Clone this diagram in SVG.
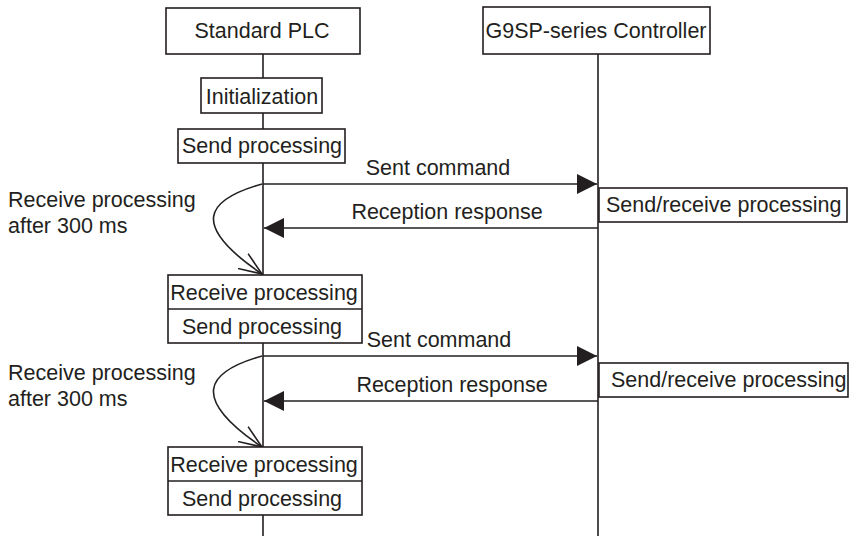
<svg xmlns="http://www.w3.org/2000/svg" width="852" height="536" viewBox="0 0 852 536">
<style>
.box{fill:#fff;stroke:#231f20;stroke-width:1.6}
.ln{fill:none;stroke:#231f20;stroke-width:1.6}
text{font-family:"Liberation Sans",Arial,sans-serif;font-size:21.5px;fill:#231f20}
.c{text-anchor:middle}
</style>
<defs>
<marker id="tri" viewBox="0 0 20 20" refX="20" refY="10" markerWidth="20" markerHeight="20" markerUnits="userSpaceOnUse" orient="auto">
<path d="M0,0 L20,10 L0,20 Z" fill="#231f20"/>
</marker>
<marker id="open" viewBox="0 0 24 20" refX="23" refY="10" markerWidth="24" markerHeight="20" markerUnits="userSpaceOnUse" orient="auto">
<path d="M0,1 L23,10 L0,19" fill="none" stroke="#231f20" stroke-width="1.6"/>
</marker>
</defs>
<g id="connectors">
<line class="ln" x1="263" y1="54" x2="263" y2="536"/>
<line class="ln" x1="598" y1="54" x2="598" y2="536"/>
<line class="ln" x1="263" y1="184" x2="597" y2="184" marker-end="url(#tri)"/>
<line class="ln" x1="598" y1="228" x2="264" y2="228" marker-end="url(#tri)"/>
<path class="ln" d="M262,184 C205,200 190,225 262,274" marker-end="url(#open)"/>
<line class="ln" x1="263" y1="356" x2="597" y2="356" marker-end="url(#tri)"/>
<line class="ln" x1="598" y1="401" x2="264" y2="401" marker-end="url(#tri)"/>
<path class="ln" d="M262,356 C205,372 190,398 262,447" marker-end="url(#open)"/>
<text class="c" x="438" y="175">Sent command</text>
<text class="c" x="447" y="219">Reception response</text>
<text class="c" x="439" y="347">Sent command</text>
<text class="c" x="452" y="392">Reception response</text>
</g>
<g id="plc">
<rect class="box" x="166" y="8" width="194" height="46"/>
<text class="c" x="262" y="38">Standard PLC</text>
</g>
<g id="g9sp">
<rect class="box" x="483" y="7" width="227" height="47"/>
<text class="c" x="596" y="38">G9SP-series Controller</text>
</g>
<g id="init">
<rect class="box" x="201" y="78" width="121" height="35"/>
<text class="c" x="262" y="104">Initialization</text>
</g>
<g id="send0">
<rect class="box" x="178" y="129" width="167" height="34"/>
<text class="c" x="262" y="153">Send processing</text>
</g>
<g id="sr1">
<rect class="box" x="599" y="188" width="248" height="34"/>
<text x="606" y="212">Send/receive processing</text>
</g>
<g id="note1">
<text x="8" y="207">Receive processing</text>
<text x="8" y="233">after 300 ms</text>
</g>
<g id="rs1">
<rect class="box" x="168" y="275" width="194" height="68"/>
<line class="ln" x1="168" y1="309" x2="362" y2="309"/>
<text class="c" x="264" y="300">Receive processing</text>
<text class="c" x="262" y="334">Send processing</text>
</g>
<g id="sr2">
<rect class="box" x="599" y="363" width="249" height="34"/>
<text x="611" y="387">Send/receive processing</text>
</g>
<g id="note2">
<text x="8" y="380">Receive processing</text>
<text x="8" y="406">after 300 ms</text>
</g>
<g id="rs2">
<rect class="box" x="168" y="447" width="194" height="68"/>
<line class="ln" x1="168" y1="481" x2="362" y2="481"/>
<text class="c" x="264" y="472">Receive processing</text>
<text class="c" x="262" y="506">Send processing</text>
</g>
</svg>
